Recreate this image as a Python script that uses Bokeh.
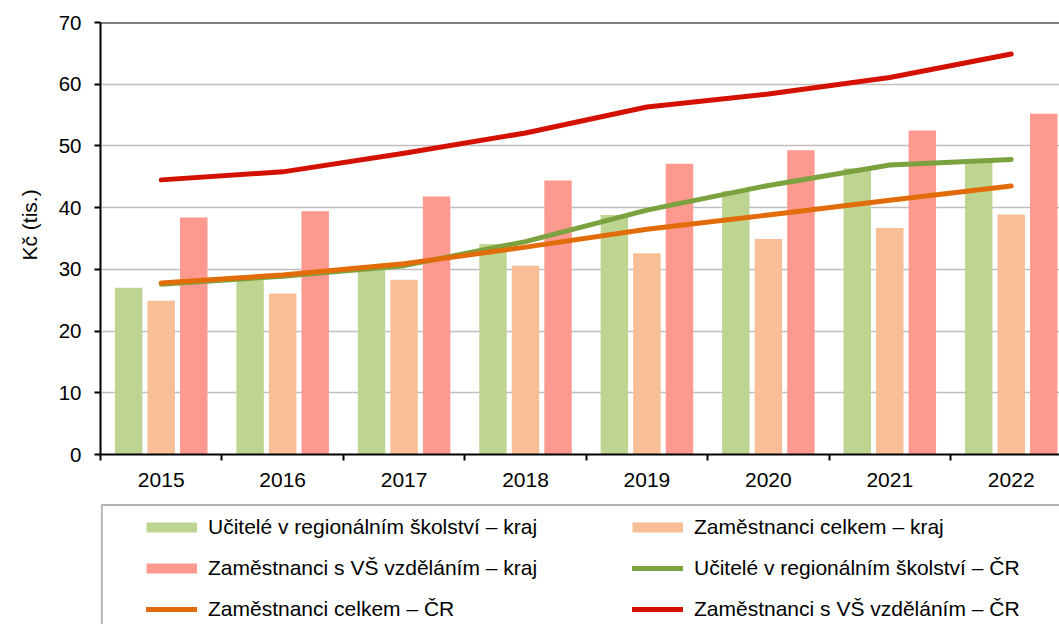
from bokeh.plotting import figure
from bokeh.layouts import column
from bokeh.models import (Range1d, FixedTicker, Legend, LegendItem, BoxAnnotation,
                          Span, ColumnDataSource, Title)
from bokeh.transform import dodge
from bokeh.embed import file_html
from bokeh.resources import INLINE

# ---- data (thousands of CZK) ----
years = ["2015", "2016", "2017", "2018", "2019", "2020", "2021", "2022"]
ucitele_kraj = [27.0, 28.5, 30.4, 34.1, 38.8, 42.7, 46.4, 47.5]
zam_celkem_kraj = [24.9, 26.1, 28.3, 30.6, 32.6, 34.9, 36.7, 38.9]
zam_vs_kraj = [38.4, 39.4, 41.8, 44.4, 47.1, 49.3, 52.5, 55.2]
ucitele_cr = [27.6, 28.9, 30.6, 34.5, 39.6, 43.6, 46.9, 47.8]
zam_celkem_cr = [27.8, 29.1, 30.9, 33.6, 36.5, 38.8, 41.2, 43.5]
zam_vs_cr = [44.5, 45.8, 48.8, 52.1, 56.3, 58.4, 61.1, 64.9]
y_ticks = [0, 10, 20, 30, 40, 50, 60, 70]
y_title = "Kč (tis.)"

series_labels = [
    "Učitelé v regionálním školství – kraj",
    "Zaměstnanci celkem – kraj",
    "Zaměstnanci s VŠ vzděláním – kraj",
    "Učitelé v regionálním školství – ČR",
    "Zaměstnanci celkem – ČR",
    "Zaměstnanci s VŠ vzděláním – ČR",
]

C_UK, C_ZCK, C_ZVK = "#BED592", "#F8BE96", "#FE9990"
C_UC, C_ZCC, C_ZVC = "#7BA23F", "#E36C0A", "#D41100"
FONT = "Liberation Sans"

W = 1059
H_MAIN, H_LEG = 500, 124
LEFT, TOP = 100, 22
BOTTOM = H_MAIN - 454
cat_px = 121.43
x_end = (W - LEFT) / cat_px

centers = [i + 0.5 for i in range(len(years))]
src = ColumnDataSource(dict(x=centers, year=years, uk=ucitele_kraj, zck=zam_celkem_kraj,
                            zvk=zam_vs_kraj, uc=ucitele_cr, zcc=zam_celkem_cr, zvc=zam_vs_cr))

p = figure(width=W, height=H_MAIN, x_range=Range1d(0, x_end), y_range=Range1d(0, 70),
           output_backend="svg", toolbar_location=None,
           min_border_left=LEFT, min_border_top=TOP, min_border_bottom=BOTTOM,
           min_border_right=0, outline_line_color=None,
           background_fill_color="white", border_fill_color="white")

off, bw = 0.268, 0.226
p.vbar(x=dodge("x", -off), top="uk", width=bw, source=src, fill_color=C_UK, line_color=None)
p.vbar(x=dodge("x", 0.0), top="zck", width=bw, source=src, fill_color=C_ZCK, line_color=None)
p.vbar(x=dodge("x", off), top="zvk", width=bw, source=src, fill_color=C_ZVK, line_color=None)

for col, c in (("uc", C_UC), ("zcc", C_ZCC), ("zvc", C_ZVC)):
    p.line(x="x", y=col, source=src, line_width=5, line_color=c,
           line_cap="round", line_join="round")

# axes
p.xaxis.ticker = FixedTicker(ticks=centers, minor_ticks=list(range(len(years) + 1)))
p.xaxis.major_label_overrides = {c: y for c, y in zip(centers, years)}
p.xaxis.major_tick_line_color = None
p.xaxis.major_tick_out = 6
p.xaxis.minor_tick_line_color = "black"
p.xaxis.minor_tick_line_width = 2
p.xaxis.minor_tick_out = 6
p.xaxis.minor_tick_in = 0
p.xaxis.major_label_standoff = 12

p.yaxis.ticker = FixedTicker(ticks=y_ticks)
p.yaxis.minor_tick_line_color = None
p.yaxis.major_tick_line_width = 2
p.yaxis.major_tick_out = 6
p.yaxis.major_tick_in = 0
p.yaxis.major_label_standoff = 13

for ax in (p.xaxis, p.yaxis):
    ax.axis_line_color = "black"
    ax.axis_line_width = 2
    ax.major_label_text_font = FONT
    ax.major_label_text_color = "black"
p.xaxis.major_label_text_font_size = "21px"
p.yaxis.major_label_text_font_size = "20.5px"

# y-axis title, placed a little above the frame centre as in the reference
p.add_layout(Title(text=y_title, align="left", offset=194, standoff=29,
                   text_font=FONT, text_font_size="21px", text_font_style="normal",
                   text_color="black"), "left")

p.xgrid.grid_line_color = None
p.ygrid.grid_line_color = "#BFBFBF"
p.ygrid.grid_line_width = 1.5

p.add_layout(Span(location=70, dimension="width", line_color="black", line_width=2))

# ---- legend panel (box continues past the page edges like the reference) ----
q = figure(width=W, height=H_LEG, x_range=Range1d(0, W - LEFT), y_range=Range1d(0, H_LEG),
           x_axis_type=None, y_axis_type=None, output_backend="svg", toolbar_location=None,
           min_border_left=LEFT, min_border_top=0, min_border_bottom=0,
           min_border_right=0, outline_line_color=None,
           background_fill_color="white", border_fill_color="white")
q.add_layout(BoxAnnotation(left=1.3, right=2000, top=H_LEG - 4.5, bottom=-200,
                           fill_color=None, fill_alpha=0, line_color="black",
                           line_width=2))

nan = float("nan")
swatches = []
for c, lw, cap in ((C_UK, 10, "butt"), (C_ZCK, 10, "butt"), (C_ZVK, 10, "butt"),
                   (C_UC, 5, "round"), (C_ZCC, 5, "round"), (C_ZVC, 5, "round")):
    swatches.append(q.line(x=[nan], y=[nan], line_width=lw, line_color=c, line_cap=cap))

items = [LegendItem(label=lbl, renderers=[r]) for lbl, r in zip(series_labels, swatches)]
legend = Legend(items=items, location=(46, 0.5),
                orientation="horizontal", ncols=2,
                padding=0, margin=0, spacing=11, glyph_width=51, glyph_height=30,
                label_height=30, label_width=413, label_standoff=11,
                label_text_font=FONT, label_text_font_size="21px",
                label_text_color="black", border_line_color=None,
                background_fill_alpha=0)
q.add_layout(legend, "center")

layout = column(p, q, spacing=0)
open("out.html", "w").write(file_html(layout, INLINE))
